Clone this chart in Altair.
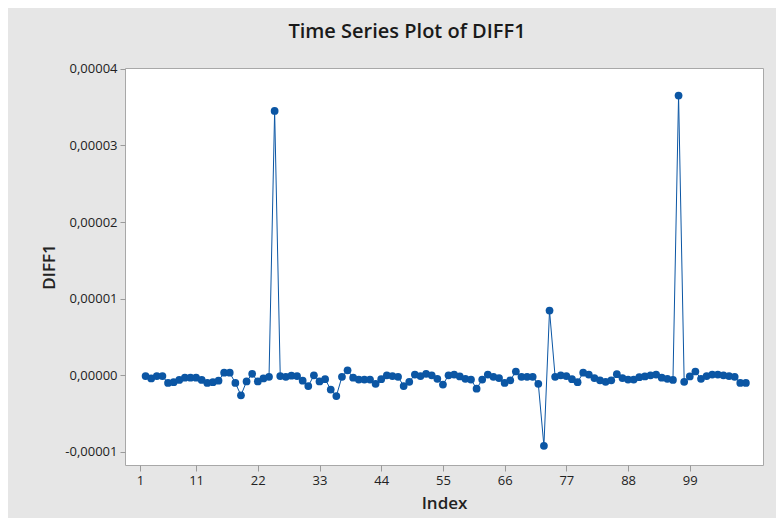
import altair as alt
import pandas as pd

# Index positions (DIFF1 starts at index 2 because first difference is missing)
index = list(range(2, 110))

# DIFF1 values in units of 1e-6
diff1_micro = [
    -0.1, -0.4, -0.1, -0.1, -1.0, -0.9, -0.6, -0.3, -0.3, -0.3,   # 2-11
    -0.6, -1.0, -0.9, -0.7, 0.35, 0.35, -1.0, -2.6, -0.8, 0.2,    # 12-21
    -0.8, -0.4, -0.2, 34.5, -0.1, -0.2, -0.05, -0.1, -0.7, -1.4,  # 22-31
    0.0, -0.8, -0.5, -1.85, -2.7, -0.2, 0.65, -0.3, -0.55, -0.55, # 32-41
    -0.55, -1.1, -0.5, 0.0, -0.1, -0.2, -1.4, -0.85, 0.1, -0.1,   # 42-51
    0.2, 0.0, -0.45, -1.2, 0.0, 0.1, -0.15, -0.45, -0.55, -1.75,  # 52-61
    -0.55, 0.1, -0.2, -0.35, -1.0, -0.65, 0.5, -0.2, -0.2, -0.2,  # 62-71
    -1.1, -9.2, 8.45, -0.2, 0.0, -0.1, -0.5, -0.9, 0.35, 0.1,     # 72-81
    -0.35, -0.65, -0.85, -0.65, 0.15, -0.35, -0.55, -0.55, -0.25, -0.15,  # 82-91
    0.0, 0.1, -0.3, -0.45, -0.6, 36.5, -0.85, -0.15, 0.5, -0.45,  # 92-101
    -0.1, 0.1, 0.1, 0.0, -0.1, -0.2, -1.0, -1.0,                  # 102-109
]

x_ticks = [1, 11, 22, 33, 44, 55, 66, 77, 88, 99]
y_ticks = [-0.00001, 0.0, 0.00001, 0.00002, 0.00003, 0.00004]

df = pd.DataFrame({"Index": index, "DIFF1": [v * 1e-6 for v in diff1_micro]})

FONT = "Open Sans"
BLUE = "#0b56a4"

x_enc = alt.X(
    "Index:Q",
    scale=alt.Scale(domain=[-1.67, 112.05], nice=False, zero=False),
    axis=alt.Axis(
        values=x_ticks, grid=False, domain=False, tickSize=6, tickColor="#9a9a9a",
        labelFontSize=13, labelColor="#222222", labelFont=FONT, labelPadding=3,
        title="Index", titleFont=FONT, titleFontSize=17, titleFontWeight=600,
        titleColor="#222222", titlePadding=8,
    ),
)
y_enc = alt.Y(
    "DIFF1:Q",
    scale=alt.Scale(domain=[-0.0000117, 0.0000401], nice=False, zero=False),
    axis=alt.Axis(
        values=y_ticks, grid=False, domain=False, tickSize=5, tickColor="#9a9a9a",
        labelExpr="(datum.value < 0 ? '-' : '') + replace(format(abs(datum.value), '.5f'), '.', ',')",
        labelFontSize=13, labelColor="#222222", labelFont=FONT, labelPadding=3,
        title="DIFF1", titleFont=FONT, titleFontSize=17, titleFontWeight=600,
        titleColor="#222222", titlePadding=6,
    ),
)

base = alt.Chart(df)
line = base.mark_line(color=BLUE, strokeWidth=1).encode(x=x_enc, y=y_enc)
pts = base.mark_circle(size=60, color=BLUE, opacity=1).encode(x=x_enc, y=y_enc)

chart = (
    alt.layer(line, pts)
    .properties(
        width=638,
        height=397,
        autosize=alt.AutoSizeParams(type="none"),
        padding={"left": 117, "top": 60, "right": 13, "bottom": 53},
        background="#e6e6e6",
        title=alt.TitleParams(
            "Time Series Plot of DIFF1", font=FONT, fontSize=20, fontWeight=600,
            color="#1a1a1a", anchor="middle", baseline="alphabetic", offset=25,
            dx=-37, dy=20,
        ),
    )
    .configure_view(stroke="#a8a8a8", strokeWidth=1, fill="white")
)

chart.save("out.html", embed_options={"renderer": "svg", "actions": False})
